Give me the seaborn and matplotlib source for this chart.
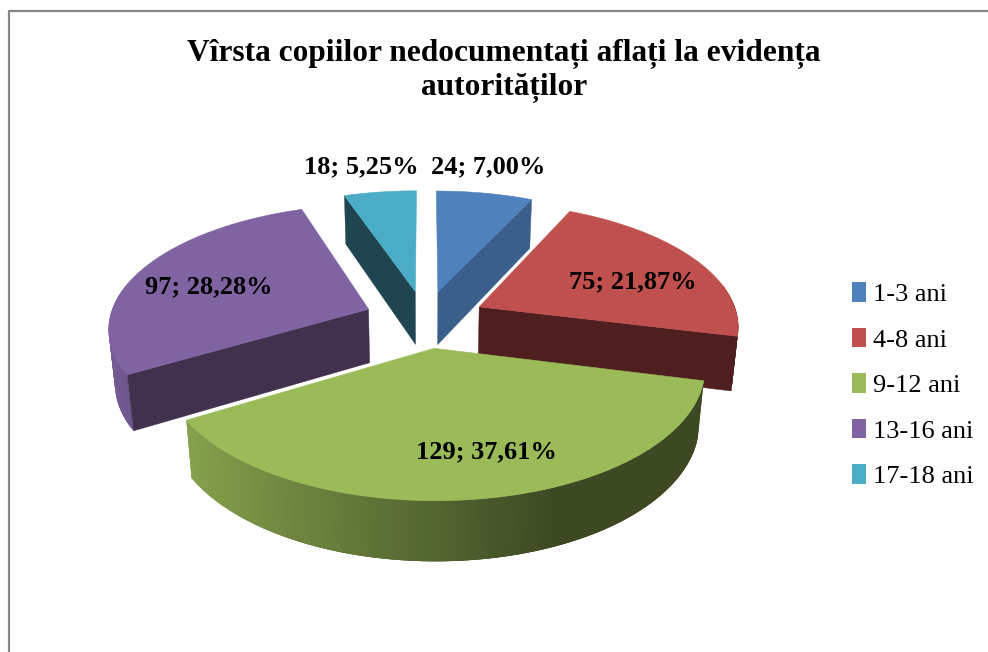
# plot.py
import numpy as np
import matplotlib
matplotlib.use('Agg')
import matplotlib.pyplot as plt
from matplotlib.patches import Patch, Polygon
from matplotlib.colors import to_rgb
import seaborn as sns

# data
categories = ['1-3 ani', '4-8 ani', '9-12 ani', '13-16 ani', '17-18 ani']
values = [24, 75, 129, 97, 18]
title = 'Vîrsta copiilor nedocumentați aflați la evidența\nautorităților'

# office colours and the darker cut faces
face_colors = ['#4F81BD', '#C0504D', '#9BBB59', '#8064A2', '#4BACC6']
cut_colors = ['#3A5F8B', '#4F1F1F', '#3C4A22', '#42304F', '#1F4650']
label_pos = [(488, 167), (633, 282), (486, 452), (209, 287), (361, 167)]

# projection of the pie, in pixels of the figure
CX, CY = 425, 319
RX, RY = 259, 122
PERSP = 0.14
THICK = 55
EXPLODE = 0.235

sns.set_theme(style='white')
plt.rcParams['font.family'] = ['Liberation Serif', 'DejaVu Serif']


def project(u, v, z=0.0):
    s = 1 / (1 + PERSP * v + 0.02 * z)
    return CX + RX * u * s, CY - RY * v * s + THICK * z * s


def wall_shade(u):
    return np.interp(u, [-1, 0.4], [0.92, 0.39])


fig = plt.figure(figsize=(9.88, 6.52), dpi=100)
ax = fig.add_axes([0, 0, 1, 1])
ax.set_xlim(0, 988)
ax.set_ylim(652, 0)
ax.axis('off')

# chart frame, only left and top fall inside the crop
ax.plot([8.5, 8.5, 990], [654, 10.5, 10.5], color='#868686', lw=1.6, clip_on=False)

fractions = np.array(values) / sum(values)
ends = np.cumsum(fractions) * 2 * np.pi
starts = ends - fractions * 2 * np.pi

# back slices first, green one is in front of all
for i in [4, 0, 3, 1, 2]:
    a0, a1 = starts[i], ends[i]
    mid = (a0 + a1) / 2
    ou, ov = EXPLODE * np.sin(mid), EXPLODE * np.cos(mid)
    ang = np.linspace(a0, a1, 160)
    us = ou + np.sin(ang)
    vs = ov + np.cos(ang)

    # outer wall, quads overlap a bit so no seams show
    for j in range(len(ang) - 1):
        if np.cos(ang[j]) > 0.2:
            continue
        n = min(j + 3, len(ang) - 1)
        quad = [project(us[j], vs[j]), project(us[n], vs[n]),
                project(us[n], vs[n], 1), project(us[j], vs[j], 1)]
        shade = wall_shade(np.sin(ang[j]))
        col = tuple(c * shade for c in to_rgb(face_colors[i]))
        ax.add_patch(Polygon(quad, closed=True, facecolor=col, edgecolor='none', lw=0))

    # radial cuts, only the ones facing the viewer
    for k, visible in [(0, np.sin(a0) < -1e-6), (-1, np.sin(a1) > 1e-6)]:
        if not visible:
            continue
        quad = [project(ou, ov), project(us[k], vs[k]),
                project(us[k], vs[k], 1), project(ou, ov, 1)]
        ax.add_patch(Polygon(quad, closed=True, facecolor=cut_colors[i],
                             edgecolor=cut_colors[i], lw=0.3))

    top = [project(ou, ov)] + [project(u, v) for u, v in zip(us, vs)]
    ax.add_patch(Polygon(top, closed=True, facecolor=face_colors[i],
                         edgecolor=face_colors[i], lw=0.4))

# data labels
for val, frac, (x, y) in zip(values, fractions, label_pos):
    txt = f'{val}; {frac * 100:.2f}%'.replace('.', ',')
    ax.text(x, y, txt, ha='center', va='center', fontsize=19,
            fontweight='bold', color='black')

ax.text(504, 71, title, ha='center', va='center', fontsize=22.6,
        fontweight='bold', color='black', linespacing=1.18)

handles = [Patch(facecolor=c, edgecolor='none') for c in face_colors]
ax.legend(handles, categories, loc='upper left', bbox_to_anchor=(0.8625, 0.567),
          frameon=False, fontsize=19, handlelength=0.53, handleheight=0.75,
          handletextpad=0.27, labelspacing=0.82, borderpad=0, borderaxespad=0,
          labelcolor='black')

fig.savefig('out.png', dpi=100)
